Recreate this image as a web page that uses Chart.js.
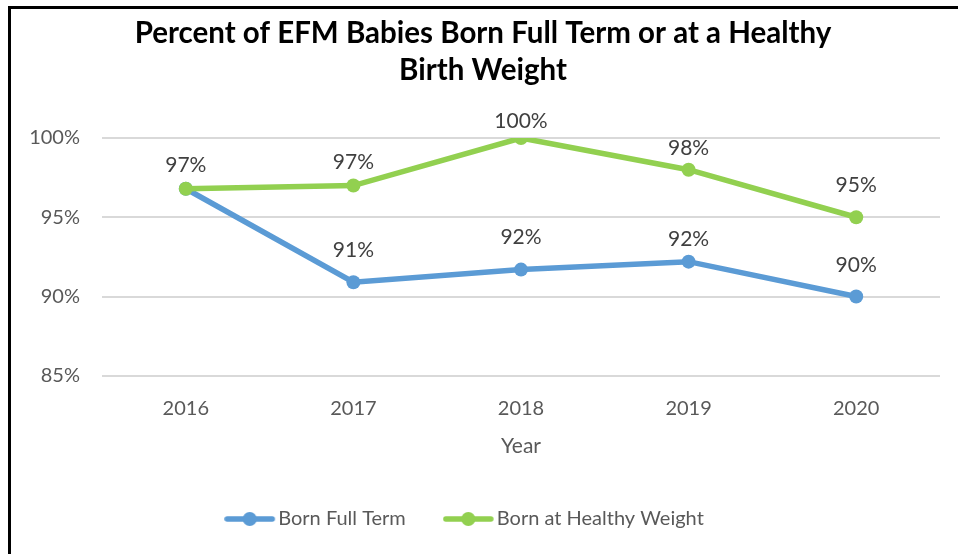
<!DOCTYPE html>
<html lang="en">
<head>
<meta charset="UTF-8">
<title>EFM Babies Born Full Term</title>
<script src="https://cdn.jsdelivr.net/npm/chart.js"></script>
<style>
  body { margin: 0; background: #fff; }
</style>
</head>
<body>
<canvas id="efmChart" width="958" height="554"></canvas>
<script>
  const years = ["2016", "2017", "2018", "2019", "2020"];
  const bornFullTerm = [96.8, 90.9, 91.7, 92.2, 90.0];
  const bornHealthyWeight = [96.8, 97.0, 100.0, 98.0, 95.0];
  const yMin = 85, yMax = 100, yStep = 5;
  const titleLines = ["Percent of EFM Babies Born Full Term or at a Healthy", "Birth Weight"];

  const FONT = "Lato, 'Open Sans', sans-serif";
  const BLUE = "#5B9BD5";
  const GREEN = "#92D050";

  // line + dot icon like the Excel legend (extra blank space on the right)
  function legendIcon(color) {
    const c = document.createElement("canvas");
    c.width = 64; c.height = 16;
    const g = c.getContext("2d");
    g.strokeStyle = color;
    g.lineWidth = 5.5;
    g.lineCap = "round";
    g.beginPath(); g.moveTo(3, 8); g.lineTo(48, 8); g.stroke();
    g.fillStyle = color;
    g.beginPath(); g.arc(25.5, 8, 7, 0, Math.PI * 2); g.fill();
    return c;
  }

  // how far above each point its label sits
  const labelLift = [
    [23, 32, 32, 22, 31],
    [23, 23, 17, 21, 32]
  ];

  const frameAndTitle = {
    id: "frameAndTitle",
    beforeDraw(chart) {
      const ctx = chart.ctx;
      ctx.save();
      ctx.fillStyle = "#fff";
      ctx.fillRect(0, 0, chart.width, chart.height);
      ctx.fillStyle = "#000";
      ctx.fillRect(8, 6, 950, 3);
      ctx.fillRect(8, 6, 3, 548);
      ctx.font = "bold 29.5px " + FONT;
      ctx.textAlign = "center";
      ctx.textBaseline = "middle";
      ctx.fillText(titleLines[0], 483, 33);
      ctx.fillText(titleLines[1], 483, 70);
      ctx.restore();
    }
  };

  const pointLabels = {
    id: "pointLabels",
    afterDatasetsDraw(chart) {
      const ctx = chart.ctx;
      const done = new Set();
      ctx.save();
      ctx.font = "21px " + FONT;
      ctx.fillStyle = "#404040";
      ctx.textAlign = "center";
      ctx.textBaseline = "middle";
      chart.data.datasets.forEach((ds, di) => {
        const meta = chart.getDatasetMeta(di);
        meta.data.forEach((pt, i) => {
          const txt = Math.round(ds.data[i]) + "%";
          const y = pt.y - labelLift[di][i];
          const key = txt + "@" + Math.round(pt.x) + "," + Math.round(y);
          if (done.has(key)) return;
          done.add(key);
          ctx.fillText(txt, pt.x, y);
        });
      });
      ctx.restore();
    }
  };

  const ctx = document.getElementById("efmChart").getContext("2d");
  new Chart(ctx, {
    type: "line",
    data: {
      labels: years,
      datasets: [{
        label: "Born Full Term",
        data: bornFullTerm,
        borderColor: BLUE,
        backgroundColor: BLUE,
        borderWidth: 5.5,
        pointRadius: 7,
        pointBorderWidth: 0,
        order: 1
      }, {
        label: "Born at Healthy Weight",
        data: bornHealthyWeight,
        borderColor: GREEN,
        backgroundColor: GREEN,
        borderWidth: 5.5,
        pointRadius: 7,
        pointBorderWidth: 0,
        order: 0
      }]
    },
    options: {
      responsive: false,
      animation: false,
      layout: { padding: { left: 8, right: 18, top: 138, bottom: 15 } },
      scales: {
        x: {
          offset: true,
          grid: { display: false, drawTicks: false },
          border: { display: false },
          ticks: { color: "#595959", font: { family: FONT, size: 20 }, padding: 21 },
          title: {
            display: true, text: "Year", color: "#595959",
            font: { family: FONT, size: 21 },
            padding: { top: -8.4, bottom: -6.6 }
          }
        },
        y: {
          min: yMin,
          max: yMax,
          afterFit(scale) { scale.width = 94; },
          grid: { color: "#D9D9D9", lineWidth: 2, drawTicks: false },
          border: { display: false },
          ticks: {
            stepSize: yStep,
            padding: 22,
            color: "#595959",
            font: { family: FONT, size: 20 },
            callback: v => v + "%"
          }
        }
      },
      plugins: {
        title: { display: false },
        legend: {
          position: "bottom",
          labels: {
            usePointStyle: true,
            pointStyleWidth: 24,
            padding: 57,
            color: "#595959",
            font: { family: FONT, size: 20 },
            sort: (a, b) => a.datasetIndex - b.datasetIndex,
            generateLabels(chart) {
              const items = Chart.defaults.plugins.legend.labels.generateLabels(chart);
              items.forEach(it => {
                it.pointStyle = legendIcon(chart.data.datasets[it.datasetIndex].borderColor);
              });
              return items;
            }
          }
        },
        tooltip: { enabled: false }
      }
    },
    plugins: [frameAndTitle, pointLabels]
  });
</script>
</body>
</html>
